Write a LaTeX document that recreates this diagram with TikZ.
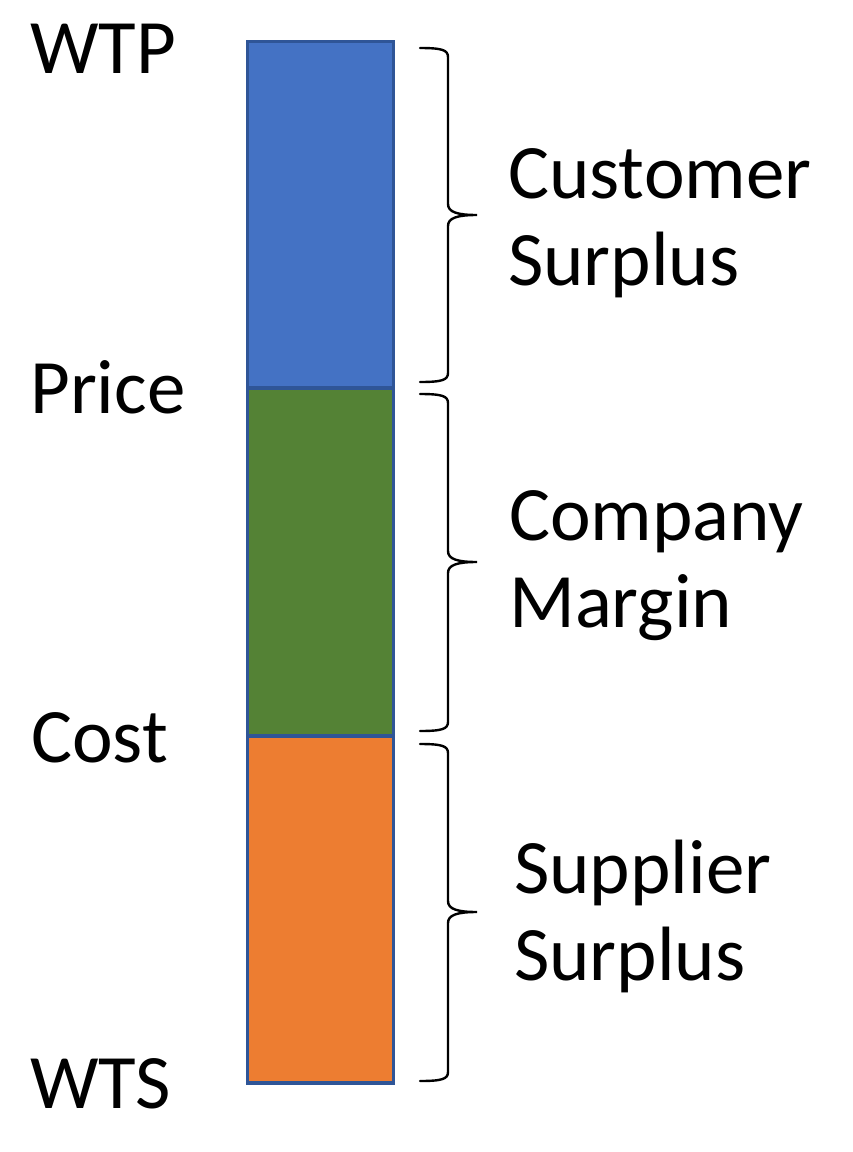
\documentclass[tikz,border=0pt]{standalone}
\usepackage{fontspec}
\usetikzlibrary{calc}
\setmainfont{Carlito}
\definecolor{cblue}{HTML}{4472C4}
\definecolor{cgreen}{HTML}{548235}
\definecolor{corange}{HTML}{ED7D31}
\definecolor{cborder}{HTML}{2F5597}
\tikzset{
  seg/.style={draw=cborder, line width=3.5pt, minimum width=146pt, inner sep=0pt, outer sep=0pt},
  lbl/.style={anchor=base west, inner sep=0pt, font=\fontsize{77}{87}\selectfont},
  brace/.style={line width=2.4pt, black, line cap=round}
}
\begin{document}
\begin{tikzpicture}[x=1pt,y=1pt]
\useasboundingbox (0,0) rectangle (852,-1152);
% bar segments
\node[seg, fill=cblue, minimum height=346.5pt, anchor=north west] (cs) at (247.5,-41.5) {};
\node[seg, fill=cgreen, minimum height=348pt, anchor=north west] (cm) at (cs.south west) {};
\node[seg, fill=corange, minimum height=347pt, anchor=north west] (ss) at (cm.south west) {};
% left labels
\node[lbl] (wtp) at (30,-73) {WTP};
\node[lbl] (price) at (30,-413) {Price};
\node[lbl] (cost) at (31,-762) {Cost};
\node[lbl] (wts) at (30,-1108) {WTS};
% right labels
\node[lbl] (cs1) at (508,-198) {Customer};
\node[lbl] (cs2) at (508,-285) {Surplus};
\node[lbl] (cm1) at (509,-540) {Company};
\node[lbl] (cm2) at (509,-627) {Margin};
\node[lbl] (ss1) at (514,-893) {Supplier};
\node[lbl] (ss2) at (514,-980) {Surplus};
% braces
\coordinate (b1t) at (420,-48);  \coordinate (b1m) at (477,-215); \coordinate (b1b) at (420,-382);
\coordinate (b2t) at (420,-394); \coordinate (b2m) at (477,-562); \coordinate (b2b) at (420,-731);
\coordinate (b3t) at (420,-744); \coordinate (b3m) at (477,-912); \coordinate (b3b) at (420,-1081);
\foreach \t/\m/\b in {b1t/b1m/b1b, b2t/b2m/b2b, b3t/b3m/b3b}{
  \draw[brace] (\t) .. controls ($(\t)+(22,0)$) and ($(\t)+(28,-2)$) .. ($(\t)+(28,-9)$)
    -- ($(\m)+(-29,11)$) .. controls ($(\m)+(-29,3)$) and ($(\m)+(-20,0)$) .. (\m)
    .. controls ($(\m)+(-20,0)$) and ($(\m)+(-29,-3)$) .. ($(\m)+(-29,-11)$)
    -- ($(\b)+(28,9)$) .. controls ($(\b)+(28,2)$) and ($(\b)+(22,0)$) .. (\b);
}
\end{tikzpicture}
\end{document}
